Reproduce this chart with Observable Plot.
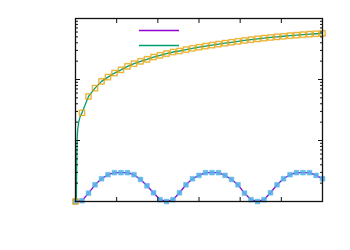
<!DOCTYPE html>
<html><head><meta charset="utf-8">
<script src="https://cdn.jsdelivr.net/npm/d3@7"></script>
<script src="https://cdn.jsdelivr.net/npm/@observablehq/plot@0.6"></script>
<style>
body{margin:0;background:#fff;font-family:"DejaVu Sans",sans-serif;}
#wrap{position:relative;width:350px;height:250px;}
#legend{position:absolute;left:0;top:0;pointer-events:none;}
</style>
</head><body><div id="wrap"></div>
<script>
// sample positions (x)
const xs = [0, 0.158, 0.316, 0.474, 0.632, 0.789, 0.947, 1.105, 1.263, 1.421, 1.579, 1.737, 1.895, 2.053, 2.211, 2.368, 2.526, 2.684, 2.842, 3.0, 3.158, 3.316, 3.474, 3.632, 3.789, 3.947, 4.105, 4.263, 4.421, 4.579, 4.737, 4.895, 5.053, 5.211, 5.368, 5.526, 5.684, 5.842, 6.0];
// lower series (purple line, blue squares)
const waveValues = [1.0, 1.03, 1.37, 1.88, 2.36, 2.75, 2.97, 2.97, 2.97, 2.75, 2.30, 1.81, 1.39, 1.07, 1.0, 1.07, 1.39, 1.88, 2.36, 2.68, 2.97, 2.97, 2.97, 2.68, 2.30, 1.88, 1.37, 1.07, 1.0, 1.07, 1.39, 1.88, 2.36, 2.75, 2.97, 2.97, 2.97, 2.68, 2.36];
// upper series (green line, orange squares)
const growthValues = [1, 28.4, 52.7, 72.2, 93.1, 109.5, 127.5, 143.9, 164.3, 181.9, 198.5, 214.1, 233.6, 249.1, 265.7, 282.3, 293.2, 309.2, 324.8, 338.6, 352.9, 366.5, 380.7, 393.9, 407.5, 421.7, 436.3, 449.8, 463.6, 476.1, 488.9, 500.1, 511.6, 523.4, 533.3, 543.5, 553.9, 562.3, 571];
// extra dense start of the green curve
const curveStartX = [0.020, 0.026, 0.032, 0.040, 0.056, 0.080, 0.115];
const curveStartValues = [1, 2.19, 5.65, 10.76, 15.7, 20.5, 24.8];
// ticks
const xTicks = [0, 1, 2, 3, 4, 5, 6];
const yMajor = [1, 10, 100, 1000];
const yMinor = [2,3,4,5,6,7,8,9,20,30,40,50,60,70,80,90,200,300,400,500,600,700,800,900];
// colours
const purple = "#9400d3", green = "#009e73", blue = "#56b4e9", orange = "#e69f00";

const wave = xs.map((x, i) => ({x, y: waveValues[i]}));
const growth = xs.map((x, i) => ({x, y: growthValues[i]}));
const greenLine = curveStartX.map((x, i) => ({x, y: curveStartValues[i]})).concat(growth.slice(1));

const ax = (ticks, anchor, size, shift) => {
  const o = {anchor, ticks, tickSize: size, fill: "none", label: null, stroke: "#111", strokeWidth: 1};
  if (anchor === "left") o.dx = shift;
  if (anchor === "right") o.dx = -shift;
  if (anchor === "bottom") o.dy = -shift;
  if (anchor === "top") o.dy = shift;
  return (anchor === "left" || anchor === "right") ? Plot.axisY(ticks, o) : Plot.axisX(ticks, o);
};

const chart = Plot.plot({
  width: 350, height: 250,
  marginLeft: 75, marginRight: 28, marginTop: 18, marginBottom: 49,
  style: {background: "#fff", overflow: "visible"},
  x: {domain: [0, 6]},
  y: {type: "log", domain: [1, 1000]},
  marks: [
    Plot.line(wave, {x: "x", y: "y", stroke: purple, strokeWidth: 1.3, clip: true}),
    Plot.line(greenLine, {x: "x", y: "y", stroke: green, strokeWidth: 1.3, clip: true}),
    Plot.dot(wave, {x: "x", y: "y", symbol: "square", r: 2.7, fill: blue, fillOpacity: 0.9, stroke: blue, strokeOpacity: 0.45, strokeWidth: 1}),
    Plot.dot(growth, {x: "x", y: "y", symbol: "square", r: 3.0, fill: "none", stroke: orange, strokeOpacity: 0.3, strokeWidth: 1.8}),
    Plot.dot(growth, {x: "x", y: "y", symbol: "square", r: 3.0, fill: "none", stroke: orange, strokeOpacity: 0.85, strokeWidth: 0.9}),
    ax(xTicks, "bottom", 4, 4),
    ax(xTicks, "top", 4, 4),
    ax(yMajor, "left", 5, 5),
    ax(yMinor, "left", 3, 3),
    ax(yMajor, "right", 5, 5),
    ax(yMinor, "right", 3, 3),
    Plot.frame({stroke: "#111", strokeWidth: 1.3})
  ]
});
const wrap = document.getElementById("wrap");
wrap.appendChild(chart);

// key samples (no text labels in the reference)
const ns = "http://www.w3.org/2000/svg";
const leg = document.createElementNS(ns, "svg");
leg.setAttribute("id", "legend");
leg.setAttribute("width", 350);
leg.setAttribute("height", 250);
[purple, green].forEach((c, k) => {
  const l = document.createElementNS(ns, "line");
  l.setAttribute("x1", 139); l.setAttribute("x2", 179);
  l.setAttribute("y1", 30.5 + 15 * k); l.setAttribute("y2", 30.5 + 15 * k);
  l.setAttribute("stroke", c); l.setAttribute("stroke-width", 1.5);
  leg.appendChild(l);
});
wrap.appendChild(leg);
</script>
</body></html>
